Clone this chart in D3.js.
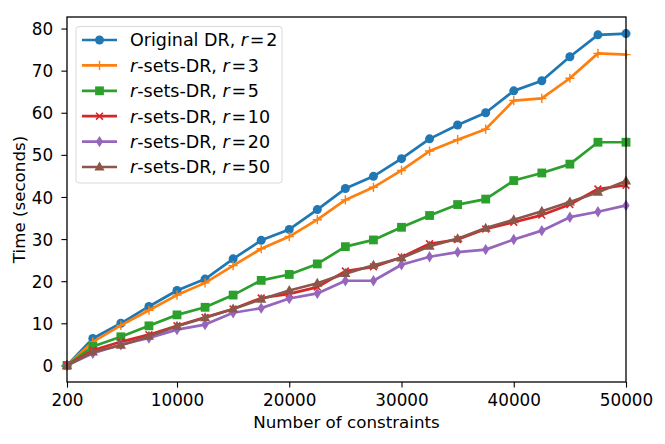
<!DOCTYPE html>
<html><head><meta charset="utf-8">
<script src="https://cdn.jsdelivr.net/npm/d3@7"></script>
<style>body{margin:0;background:#fff;} text{font-family:"DejaVu Sans",sans-serif;fill:#000;}</style>
</head><body><svg id="c" width="665" height="444"></svg>
<script>
const xValues = [200,2500,5000,7500,10000,12500,15000,17500,20000,22500,25000,27500,30000,32500,35000,37500,40000,42500,45000,47500,50000];
const originalR2 = [0,6.4,10.0,14.0,17.8,20.5,25.3,29.7,32.3,37.0,42.0,44.9,49.1,53.8,57.1,60.0,65.2,67.6,73.3,78.5,78.8];
const setsR3 = [0,5.6,9.5,13.1,16.7,19.6,23.7,27.7,30.6,34.6,39.3,42.3,46.3,50.9,53.6,56.1,62.9,63.4,68.2,74.1,73.8];
const setsR5 = [0,4.5,6.8,9.4,12.0,13.8,16.7,20.2,21.6,24.1,28.2,29.8,32.8,35.6,38.2,39.5,43.9,45.7,47.8,53.0,53.0];
const setsR10 = [0,3.6,5.6,7.3,9.4,11.4,13.4,16.0,17.0,18.6,22.4,23.4,25.7,28.9,29.9,32.4,34.0,35.7,38.2,41.9,42.8];
const setsR20 = [0,2.9,4.9,6.5,8.5,9.7,12.5,13.6,15.9,17.1,20.1,20.1,23.9,25.8,26.9,27.5,29.9,32.0,35.2,36.5,38.0];
const setsR50 = [0,3.2,4.8,6.9,9.3,11.3,13.4,15.7,17.8,19.5,21.8,23.8,25.5,28.3,30.1,32.6,34.6,36.6,38.8,41.1,43.8];
const xTicks = [200,10000,20000,30000,40000,50000];
const yTicks = [0,10,20,30,40,50,60,70,80];
const seriesPrefix = ["Original DR, ","-sets-DR, ","-sets-DR, ","-sets-DR, ","-sets-DR, ","-sets-DR, "];
const seriesR = ["2","3","5","10","20","50"];

const series = [
  {vals: originalR2, color:"#1f77b4", marker:"circle"},
  {vals: setsR3, color:"#ff7f0e", marker:"plus"},
  {vals: setsR5, color:"#2ca02c", marker:"square"},
  {vals: setsR10, color:"#d62728", marker:"x"},
  {vals: setsR20, color:"#9467bd", marker:"thin_diamond"},
  {vals: setsR50, color:"#8c564b", marker:"triangle"}
];

const L=67,R=626,T=17,B=382;
const svg=d3.select("#c");
const x=d3.scaleLinear().domain([200,50000]).range([L,R]);
const ymax=d3.max(originalR2), pad=ymax*0.05;
const y=d3.scaleLinear().domain([-pad,ymax+pad]).range([B,T]);

function drawMarker(g,type,cx,cy,color){
  if(type==="circle") g.append("circle").attr("cx",cx).attr("cy",cy).attr("r",4.5).attr("fill",color);
  else if(type==="square") g.append("rect").attr("x",cx-4.4).attr("y",cy-4.4).attr("width",8.8).attr("height",8.8).attr("fill",color);
  else if(type==="plus") g.append("path").attr("d",`M${cx-4.6},${cy}H${cx+4.6}M${cx},${cy-4.6}V${cy+4.6}`).attr("stroke",color).attr("stroke-width",1.4).attr("fill","none");
  else if(type==="x") g.append("path").attr("d",`M${cx-3.4},${cy-3.4}L${cx+3.4},${cy+3.4}M${cx-3.4},${cy+3.4}L${cx+3.4},${cy-3.4}`).attr("stroke",color).attr("stroke-width",1.6).attr("fill","none");
  else if(type==="thin_diamond") g.append("path").attr("d",`M${cx},${cy-5.7}L${cx+3.6},${cy}L${cx},${cy+5.7}L${cx-3.6},${cy}Z`).attr("fill",color);
  else if(type==="triangle") g.append("path").attr("d",`M${cx},${cy-5.5}L${cx+5.1},${cy+3.5}L${cx-5.1},${cy+3.5}Z`).attr("fill",color);
}

// axes
const xAxis=d3.axisBottom(x).tickValues(xTicks).tickSize(5.6).tickFormat(d3.format("d"));
const gx=svg.append("g").attr("transform",`translate(0,${B})`).call(xAxis);
const yAxis=d3.axisLeft(y).tickValues(yTicks).tickSize(5.6);
const gy=svg.append("g").attr("transform",`translate(${L},0)`).call(yAxis);
[gx,gy].forEach(g=>{g.select(".domain").remove();g.selectAll("line").attr("stroke","#000").attr("stroke-width",1.1);g.selectAll("text").style("font-size","16.8px").style("font-family","DejaVu Sans");});
gx.selectAll("text").attr("y",23.7).attr("dy",0);
gy.selectAll("text").attr("x",-13.8).attr("dy","0.36em");

// lines
const plot=svg.append("g");
const line=d3.line().x((d,i)=>x(xValues[i])).y(d=>y(d));
series.forEach(s=>{
  const g=plot.append("g");
  g.append("path").attr("d",line(s.vals)).attr("fill","none").attr("stroke",s.color).attr("stroke-width",2.7).attr("stroke-linejoin","round").attr("stroke-linecap","square");
  s.vals.forEach((v,i)=>drawMarker(g,s.marker,x(xValues[i]),y(v),s.color));
});

// spines
svg.append("rect").attr("x",L).attr("y",T).attr("width",R-L).attr("height",B-T).attr("fill","none").attr("stroke","#000").attr("stroke-width",1.3);

// legend
const lg=svg.append("g");
lg.append("rect").attr("x",76).attr("y",26.5).attr("width",206).attr("height",156.5).attr("rx",3).attr("fill","#fff").attr("fill-opacity",0.8).attr("stroke","#d9d9d9").attr("stroke-width",1);
series.forEach((s,i)=>{
  const cy=40+i*25.4;
  lg.append("line").attr("x1",82).attr("x2",117).attr("y1",cy).attr("y2",cy).attr("stroke",s.color).attr("stroke-width",2.7);
  drawMarker(lg,s.marker,99.5,cy,s.color);
  const t=lg.append("text").attr("x",130).attr("y",cy+6.4).style("font-size","17.5px");
  if(i>0) t.append("tspan").style("font-style","italic").text("r");
  t.append("tspan").text(seriesPrefix[i]);
  t.append("tspan").style("font-style","italic").text("r");
  t.append("tspan").text("\u200A=\u200A"+seriesR[i]);
});

// labels
svg.append("text").attr("x",(L+R)/2).attr("y",428).attr("text-anchor","middle").style("font-size","16.7px").text("Number of constraints");
svg.append("text").attr("transform",`translate(25,${(T+B)/2}) rotate(-90)`).attr("text-anchor","middle").style("font-size","16.7px").text("Time (seconds)");
</script></body></html>
